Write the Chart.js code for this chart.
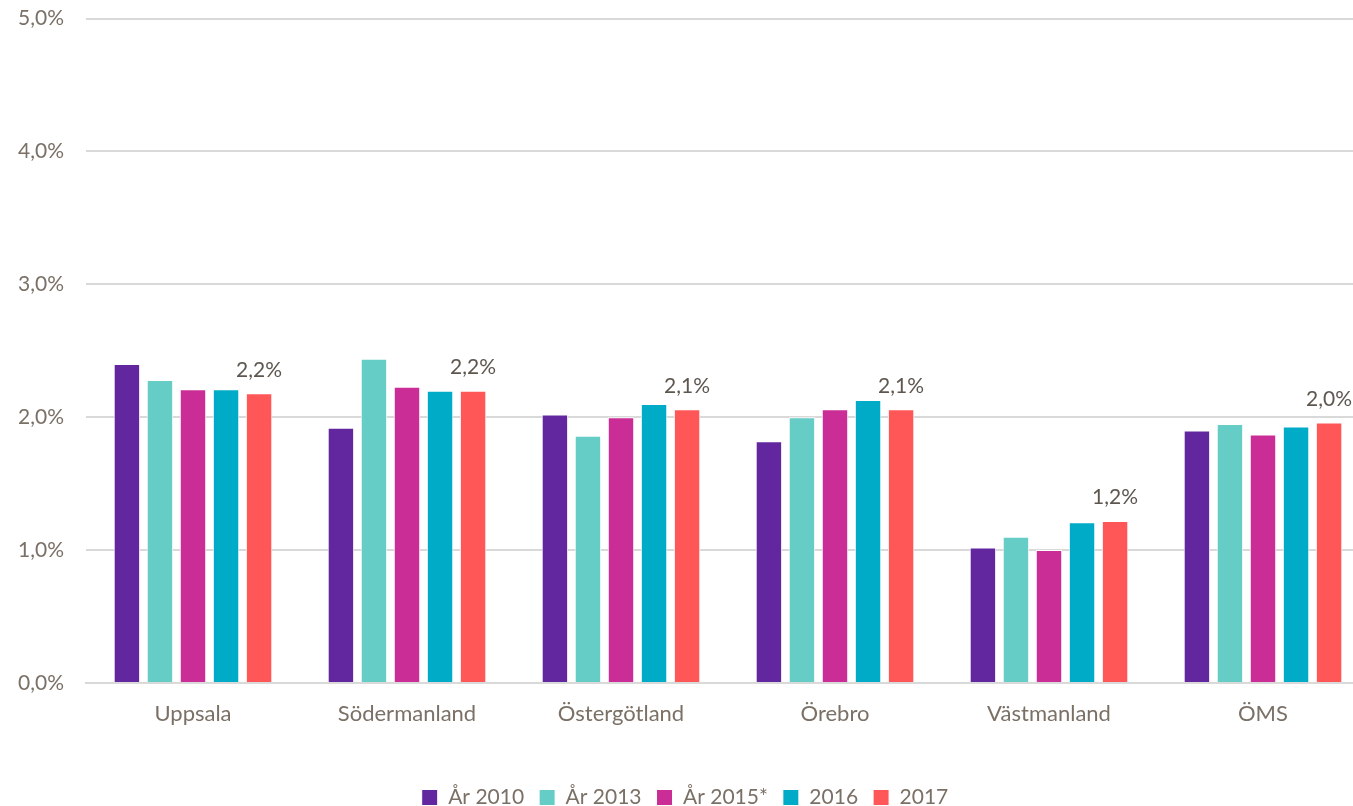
<!DOCTYPE html>
<html>
<head>
<meta charset="utf-8">
<script src="https://cdn.jsdelivr.net/npm/chart.js@4/dist/chart.umd.min.js"></script>
<style>
  html, body { margin: 0; padding: 0; background: #fff; overflow: hidden; }
  #wrap { width: 1370px; height: 822px; margin-top: -16px; }
</style>
</head>
<body>
<div id="wrap"><canvas id="chart"></canvas></div>
<script>
// data (percent)
const regions = ['Uppsala', 'Södermanland', 'Östergötland', 'Örebro', 'Västmanland', 'ÖMS'];
const seriesNames = ['År 2010', 'År 2013', 'År 2015*', '2016', '2017'];
const y2010 = [2.40, 1.92, 2.02, 1.82, 1.02, 1.90];
const y2013 = [2.28, 2.44, 1.86, 2.00, 1.10, 1.95];
const y2015 = [2.21, 2.23, 2.00, 2.06, 1.00, 1.87];
const y2016 = [2.21, 2.20, 2.10, 2.13, 1.21, 1.93];
const y2017 = [2.18, 2.20, 2.06, 2.06, 1.22, 1.96];
const colors = ['#62269e', '#65ccc6', '#cb2d96', '#00abc7', '#ff5757'];

const textColor = '#7a7066';
const fontFamily = 'Lato, "Open Sans", sans-serif';
const fontSize = 21;

// labels above the 2017 bars
const lastLabels = {
  id: 'lastLabels',
  afterDatasetsDraw(chart) {
    const ctx = chart.ctx;
    const idx = chart.data.datasets.length - 1;
    const meta = chart.getDatasetMeta(idx);
    ctx.save();
    ctx.font = fontSize + 'px ' + fontFamily;
    ctx.fillStyle = '#5e5750';
    ctx.textAlign = 'center';
    ctx.textBaseline = 'bottom';
    meta.data.forEach((bar, i) => {
      const v = chart.data.datasets[idx].data[i];
      ctx.fillText(v.toFixed(1).replace('.', ',') + '%', bar.x, bar.y - 13);
    });
    ctx.restore();
  }
};

const all = [y2010, y2013, y2015, y2016, y2017];

new Chart(document.getElementById('chart').getContext('2d'), {
  type: 'bar',
  data: {
    labels: regions,
    datasets: all.map((d, i) => ({
      label: seriesNames[i],
      data: d,
      backgroundColor: colors[i],
      borderColor: '#ffffff',
      borderWidth: 1,
      categoryPercentage: 0.772,
      barPercentage: 0.8,
    })),
  },
  options: {
    responsive: true,
    maintainAspectRatio: false,
    animation: false,
    layout: { padding: { top: -5, bottom: -12 } },
    plugins: {
      legend: {
        position: 'bottom',
        labels: {
          font: { size: 21, family: fontFamily },
          color: textColor,
          boxWidth: 16,
          boxHeight: 16,
          padding: 15,
        },
      },
      tooltip: { enabled: false },
    },
    scales: {
      x: {
        grid: { display: false },
        border: { color: '#d9d9d9', width: 2 },
        afterFit(scale) { scale.height = 89; },
        ticks: {
          font: { size: 22, family: fontFamily },
          color: textColor,
          padding: 10,
        },
      },
      y: {
        min: 0,
        max: 5,
        afterFit(scale) { scale.width = 86; },
        border: { display: false },
        grid: { color: '#d9d9d9', lineWidth: 2, drawTicks: false },
        ticks: {
          stepSize: 1,
          padding: 22,
          font: { size: fontSize, family: fontFamily },
          color: textColor,
          callback: (v) => v.toFixed(1).replace('.', ',') + '%',
        },
      },
    },
  },
  plugins: [lastLabels],
});
</script>
</body>
</html>
